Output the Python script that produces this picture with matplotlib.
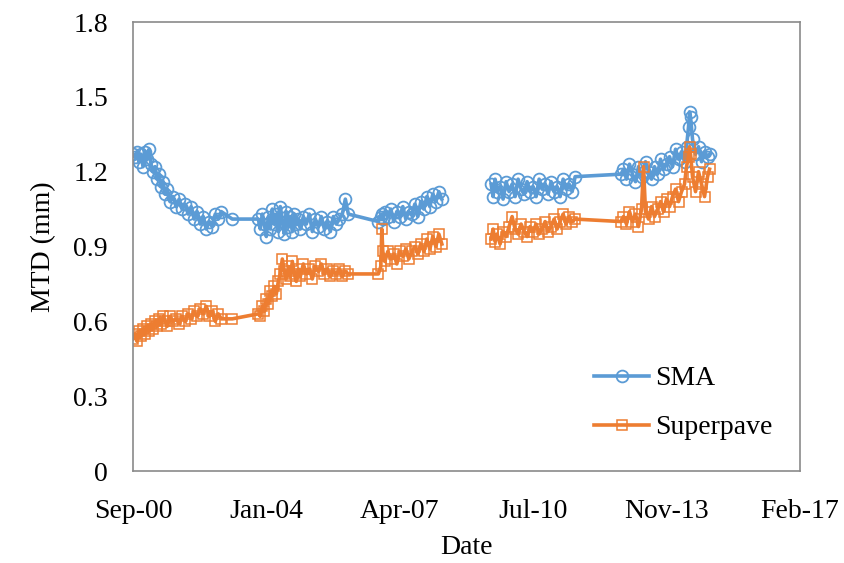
import numpy as np
import pandas as pd
import matplotlib
matplotlib.use("Agg")
import matplotlib.pyplot as plt
import matplotlib.dates as mdates

plt.rcParams['font.family'] = ['Liberation Serif', 'DejaVu Serif']

# measurement dates (the NaN row breaks the line between 2008 and 2009)
dates = [
    "2000-09-20", "2000-10-08", "2000-10-26", "2000-11-13", "2000-12-01", "2000-12-19",
    "2001-01-06", "2001-01-24", "2001-02-11", "2001-03-01", "2001-03-19", "2001-04-07",
    "2001-04-25", "2001-05-13", "2001-05-31", "2001-06-18", "2001-07-06", "2001-07-24",
    "2001-08-20", "2001-09-16", "2001-10-13", "2001-11-09", "2001-12-06", "2002-01-02",
    "2002-01-29", "2002-02-25", "2002-03-24", "2002-04-20", "2002-05-18", "2002-06-14",
    "2002-07-11", "2002-08-07", "2002-09-03", "2002-09-30", "2002-10-27", "2002-11-23",
    "2003-03-02",
    "2003-10-22", "2003-11-09", "2003-11-27", "2003-12-15", "2004-01-02", "2004-01-20",
    "2004-02-07", "2004-02-25", "2004-03-14", "2004-04-01", "2004-04-19", "2004-05-07",
    "2004-05-25", "2004-06-12", "2004-06-30", "2004-07-18", "2004-08-05", "2004-08-23",
    "2004-09-10", "2004-09-28", "2004-10-16", "2004-11-03", "2004-11-30", "2004-12-27",
    "2005-01-23", "2005-02-19", "2005-03-18", "2005-04-14", "2005-05-11", "2005-06-07",
    "2005-07-04", "2005-07-31", "2005-08-27", "2005-09-23", "2005-10-20", "2005-11-16",
    "2005-12-13", "2006-01-09", "2006-10-06",
    "2006-10-28", "2006-11-06", "2006-11-15", "2006-12-03", "2006-12-30", "2007-01-26",
    "2007-02-22", "2007-03-21", "2007-04-17", "2007-05-14", "2007-06-10", "2007-07-07",
    "2007-08-03", "2007-08-30", "2007-09-26", "2007-10-23", "2007-11-19", "2007-12-16",
    "2008-01-12", "2008-02-08", "2008-03-06", "2008-04-02", "2008-04-29",
    "2008-12-15",
    "2009-07-16", "2009-08-03", "2009-08-21", "2009-09-08", "2009-10-05", "2009-11-01",
    "2009-11-28", "2009-12-25", "2010-01-21", "2010-02-17", "2010-03-16", "2010-04-12",
    "2010-05-09", "2010-06-05", "2010-07-02", "2010-07-29", "2010-08-25", "2010-09-21",
    "2010-10-18", "2010-11-14", "2010-12-11", "2011-01-07", "2011-02-03", "2011-03-02",
    "2011-03-29", "2011-04-25", "2011-05-22", "2011-06-18", "2011-07-15", "2011-08-11",
    "2012-09-27",
    "2012-10-19", "2012-11-15", "2012-12-12", "2013-01-08", "2013-02-04", "2013-03-03",
    "2013-03-30", "2013-04-17", "2013-05-05", "2013-06-01", "2013-06-28", "2013-07-25",
    "2013-08-21", "2013-09-17", "2013-10-14", "2013-11-10", "2013-12-07", "2014-01-03",
    "2014-01-30", "2014-02-26", "2014-03-25", "2014-04-21", "2014-05-09", "2014-05-27",
    "2014-06-05", "2014-06-14", "2014-07-02", "2014-07-29", "2014-08-25", "2014-09-21",
    "2014-10-18", "2014-11-14", "2014-12-02",
]

sma_mtd = [
    1.27, 1.26, 1.28, 1.24, 1.27, 1.22, 1.28, 1.25, 1.29, 1.23, 1.20, 1.22,
    1.17, 1.19, 1.14, 1.16, 1.11, 1.13, 1.08, 1.10, 1.06, 1.09, 1.05, 1.07,
    1.03, 1.06, 1.01, 1.04, 0.99, 1.02, 0.97, 1.00, 0.98, 1.03, 1.01, 1.04,
    1.01,
    1.01, 0.97, 1.03, 0.99, 0.94, 1.02, 0.97, 1.05, 0.99, 1.03, 0.96, 1.06,
    1.00, 0.95, 1.04, 0.98, 1.02, 0.96, 1.03, 0.99, 1.01, 0.97, 1.02, 0.99,
    1.03, 0.96, 1.01, 0.98, 1.02, 0.97, 1.00, 0.96, 1.02, 0.99, 1.01, 1.03,
    1.09, 1.03, 1.00,
    1.02, 1.03, 1.01, 1.04, 1.02, 1.05, 1.00, 1.04, 1.02, 1.06, 1.01, 1.04,
    1.03, 1.07, 1.02, 1.08, 1.05, 1.10, 1.06, 1.11, 1.08, 1.12, 1.09,
    np.nan,
    1.15, 1.10, 1.17, 1.12, 1.14, 1.09, 1.16, 1.12, 1.15, 1.10, 1.17, 1.13,
    1.11, 1.16, 1.12, 1.14, 1.10, 1.17, 1.13, 1.15, 1.11, 1.16, 1.12, 1.14,
    1.10, 1.17, 1.13, 1.15, 1.12, 1.18,
    1.19,
    1.21, 1.17, 1.23, 1.19, 1.16, 1.22, 1.18, 1.20, 1.24, 1.20, 1.17, 1.22,
    1.19, 1.25, 1.21, 1.23, 1.26, 1.22, 1.29, 1.25, 1.28, 1.24, 1.30, 1.38,
    1.44, 1.42, 1.33, 1.27, 1.30, 1.24, 1.28, 1.26, 1.27,
]

superpave_mtd = [
    0.53, 0.55, 0.52, 0.56, 0.54, 0.57, 0.55, 0.58, 0.56, 0.59, 0.57, 0.60,
    0.58, 0.61, 0.59, 0.62, 0.60, 0.58, 0.62, 0.60, 0.61, 0.59, 0.62, 0.60,
    0.63, 0.61, 0.64, 0.62, 0.65, 0.63, 0.66, 0.62, 0.64, 0.60, 0.63, 0.61,
    0.61,
    0.63, 0.62, 0.66, 0.64, 0.69, 0.67, 0.72, 0.70, 0.74, 0.71, 0.76, 0.79,
    0.85, 0.80, 0.77, 0.82, 0.78, 0.84, 0.79, 0.76, 0.81, 0.78, 0.83, 0.79,
    0.81, 0.77, 0.82, 0.80, 0.83, 0.79, 0.81, 0.78, 0.80, 0.79, 0.81, 0.78,
    0.80, 0.79, 0.79,
    0.82, 0.97, 0.88, 0.84, 0.88, 0.85, 0.87, 0.83, 0.88, 0.86, 0.89, 0.85,
    0.88, 0.90, 0.87, 0.91, 0.88, 0.93, 0.89, 0.94, 0.90, 0.95, 0.91,
    np.nan,
    0.93, 0.97, 0.92, 0.95, 0.91, 0.96, 0.94, 0.98, 1.02, 0.97, 0.95, 0.99,
    0.96, 0.94, 0.98, 0.96, 0.99, 0.95, 0.97, 1.00, 0.96, 0.98, 1.01, 0.97,
    1.00, 1.03, 0.99, 1.02, 1.00, 1.01,
    1.00,
    1.02, 0.99, 1.04, 1.00, 1.03, 0.98, 1.05, 1.22, 1.04, 1.01, 1.06, 1.02,
    1.05, 1.08, 1.04, 1.09, 1.06, 1.10, 1.13, 1.08, 1.12, 1.15, 1.22, 1.26,
    1.30, 1.27, 1.18, 1.12, 1.20, 1.15, 1.10, 1.18, 1.21,
]

x_start = pd.Timestamp("2000-09-20")
tick_step_days = 1200
n_ticks = 6
y_ticks = [0, 0.3, 0.6, 0.9, 1.2, 1.5, 1.8]

blue = '#5B9BD5'
orange = '#ED7D31'

t = pd.to_datetime(dates)

fig = plt.figure(figsize=(8.44, 5.63), dpi=100)
ax = fig.add_axes([0.1576, 0.1634, 0.7903, 0.7975])

ax.plot(t, sma_mtd, color=blue, lw=2.6, marker='o', ms=8.5, mfc='none',
        mec=blue, mew=1.3, label='SMA')
ax.plot(t, superpave_mtd, color=orange, lw=2.6, marker='s', ms=7.8, mfc='none',
        mec=orange, mew=1.1, label='Superpave')

ticks = [x_start + pd.Timedelta(days=tick_step_days * i) for i in range(n_ticks)]
ax.set_xlim(ticks[0], ticks[-1])
ax.set_xticks(ticks)
ax.xaxis.set_major_formatter(mdates.DateFormatter('%b-%y'))
ax.set_ylim(0, 1.8)
ax.set_yticks(y_ticks)
ax.set_yticklabels(['0' if v == 0 else f'{v:.1f}' for v in y_ticks])

ax.tick_params(axis='both', length=0, labelsize=20, colors='black')
ax.tick_params(axis='y', pad=18)
ax.tick_params(axis='x', pad=20)
for s in ax.spines.values():
    s.set_color('#8a8a8a')
    s.set_linewidth(1.2)

ax.set_xlabel('Date', fontsize=20, labelpad=8)
ax.set_ylabel('MTD (mm)', fontsize=20, labelpad=12)

ax.legend(loc='center left', bbox_to_anchor=(0.691, 0.151), frameon=False,
          fontsize=20, handlelength=2.0, handletextpad=0.2, labelspacing=0.85,
          borderpad=0, borderaxespad=0)

fig.savefig('out.png', dpi=100, facecolor='white')
